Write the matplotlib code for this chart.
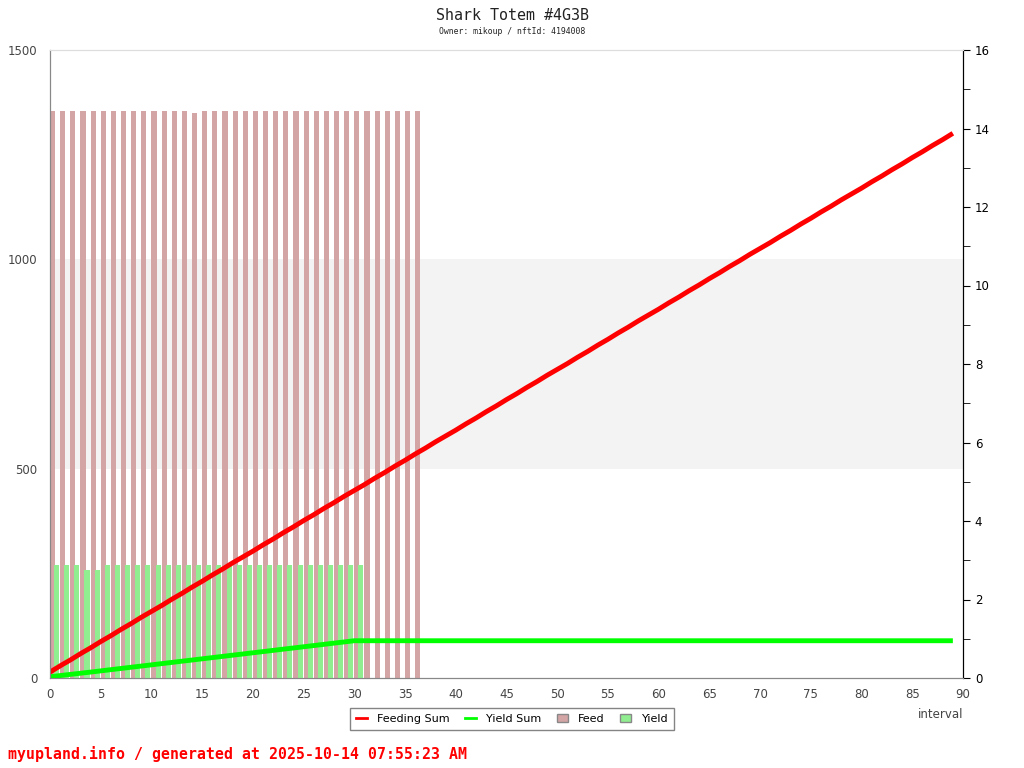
import numpy as np
import matplotlib
matplotlib.use('Agg')
import matplotlib.pyplot as plt
import matplotlib.transforms as mtransforms
from matplotlib.patches import Rectangle
from matplotlib.lines import Line2D
from matplotlib.patches import Patch

# per-interval values (right axis)
feed = [14.45] * 14 + [14.4] + [14.45] * 22
yield_ = [2.88, 2.88, 2.88, 2.75, 2.75] + [2.88] * 26

# cumulative sums (left axis), one point per interval 0..89
feeding_sum = [14, 29, 43, 58, 72, 87, 101, 116, 130, 145,
               159, 173, 188, 202, 217, 231, 246, 260, 275, 289,
               303, 318, 332, 347, 361, 376, 390, 405, 419, 434,
               448, 462, 477, 491, 506, 520, 535, 549, 564, 578,
               592, 607, 621, 636, 650, 665, 679, 694, 708, 723,
               737, 751, 766, 780, 795, 809, 824, 838, 853, 867,
               881, 896, 910, 925, 939, 954, 968, 983, 997, 1012,
               1026, 1040, 1055, 1069, 1084, 1098, 1113, 1127, 1142, 1156,
               1170, 1185, 1199, 1214, 1228, 1243, 1257, 1272, 1286, 1301]
yield_sum = [2.9, 5.8, 8.6, 11.4, 14.1, 17.0, 19.9, 22.8, 25.7, 28.5,
             31.4, 34.3, 37.2, 40.1, 42.9, 45.8, 48.7, 51.6, 54.5, 57.3,
             60.2, 63.1, 66.0, 68.9, 71.7, 74.6, 77.5, 80.4, 83.3, 86.1,
             89.0] + [89.0] * 59

fig = plt.figure(figsize=(10.24, 7.68), dpi=100)
ax = fig.add_axes([50/1024, 90/768, 913/1024, 628/768])
ax2 = ax.twinx()

# bars on ax (0..16, ticks shown right), lines on ax2 (0..1500, ticks shown left)
xf = np.arange(len(feed))
xy = np.arange(len(yield_))
band = Rectangle((0, 500), 1, 500, transform=mtransforms.blended_transform_factory(ax.transAxes, ax2.transData),
                 facecolor='#f3f3f3', edgecolor='none', zorder=0)
ax.add_patch(band)
ax.bar(xf + 0.25, feed, width=0.5, color='#d4a5a5', zorder=2)
ax.bar(xy + 0.65, yield_, width=0.5, color='#90ee90', zorder=3)

xs = np.arange(len(feeding_sum))
ax2.plot(xs, feeding_sum, color='#ff0000', lw=3.5, solid_capstyle='butt')
ax2.plot(xs, yield_sum, color='#00ff00', lw=3.5, solid_capstyle='butt')

ax.set_xlim(0, 90)
ax.set_ylim(0, 16)
ax2.set_ylim(0, 1500)
ax.set_xticks(range(0, 91, 5))

ax.yaxis.tick_right()
ax.set_yticks(range(0, 17, 2))
ax.set_yticks(range(1, 17, 2), minor=True)
ax2.yaxis.tick_left()
ax2.set_yticks([0, 500, 1000, 1500])

for a in (ax, ax2):
    a.spines['top'].set_color('#dddddd')
    a.spines['left'].set_color('#888888')
    a.spines['bottom'].set_color('#888888')
    a.spines['right'].set_color('black')
ax.tick_params(axis='x', length=0, pad=7, labelsize=8.5, labelcolor='#444444')
ax.tick_params(axis='y', which='both', colors='black', labelsize=8.5, length=5)
ax2.tick_params(axis='y', length=0, pad=9, labelcolor='#444444', labelsize=8.5)

fig.text(0.5, 1 - 15/768, 'Shark Totem #4G3B', ha='center', va='center',
         family='DejaVu Sans Mono', fontsize=10.8, color='#222222')
fig.text(0.5, 1 - 31/768, 'Owner: mikoup / nftId: 4194008', ha='center', va='center',
         family='DejaVu Sans Mono', fontsize=5.9, color='#222222')
fig.text(941/1024, 1 - 714/768, 'interval', ha='center', va='center', fontsize=8.5, color='#444444')
fig.text(8/1024, 1 - 754/768, 'myupland.info / generated at 2025-10-14 07:55:23 AM', ha='left', va='center',
         family='DejaVu Sans Mono', fontsize=10.7, color='#ff0000', fontweight='bold')

handles = [Line2D([], [], color='#ff0000', lw=2),
           Line2D([], [], color='#00ff00', lw=2),
           Patch(facecolor='#d4a5a5', edgecolor='#888888'),
           Patch(facecolor='#90ee90', edgecolor='#888888')]
leg = fig.legend(handles, ['Feeding Sum', 'Yield Sum', 'Feed', 'Yield'], loc='center',
                 bbox_to_anchor=(512/1024, 1 - 719/768), ncol=4, fontsize=8, frameon=True,
                 fancybox=False, handlelength=1.0, handleheight=0.7, columnspacing=1.4, handletextpad=0.9,
                 borderpad=0.5)
leg.get_frame().set_edgecolor('#666666')
leg.get_frame().set_linewidth(1)

fig.savefig('out.png', dpi=100)
